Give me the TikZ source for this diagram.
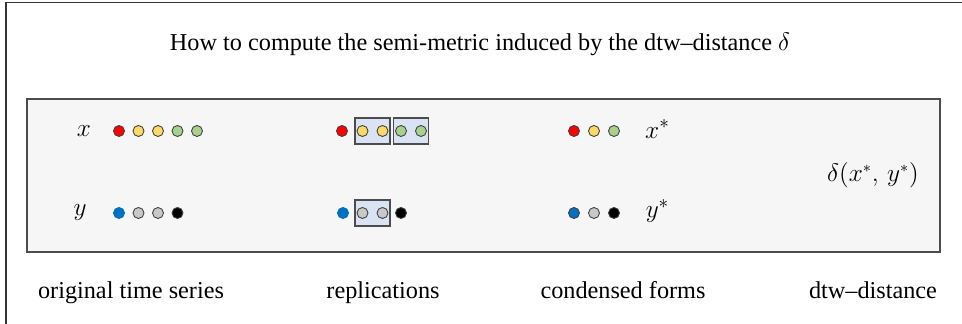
\documentclass[tikz,border=0pt]{standalone}
\usepackage{fontspec}
\setmainfont{Liberation Serif}
\usetikzlibrary{positioning}
\definecolor{rouge}{RGB}{255,0,0}
\definecolor{jaune}{RGB}{255,217,102}
\definecolor{vert}{RGB}{169,209,142}
\definecolor{gris}{RGB}{200,200,200}
\definecolor{bleu}{RGB}{0,112,192}
\definecolor{fondpanneau}{RGB}{246,246,246}
\definecolor{fondboite}{RGB}{218,227,243}

\begin{document}
\begin{tikzpicture}[
        every node/.style={font=\fontsize{13.8}{16}\selectfont},%taille du texte
        bead/.style={circle, draw=black!75, line width=0.5pt, minimum size=0.22cm, inner sep=0pt},%les petits disques
        repbox/.style={draw=black!70, fill=fondboite, line width=0.6pt, minimum width=0.7cm, minimum height=0.52cm, inner sep=0pt},%les boites des replications
        serie/.style={font=\fontsize{15}{18}\selectfont},%noms des series
        legende/.style={anchor=base}]%textes du bas, sur la meme ligne
    \useasboundingbox (0,0) rectangle (19.24,-6.48);
    \draw[line width=0.8pt, black!80] (0.12,-6.48) -- (0.12,-0.05) -- (19.24,-0.05);

    \node (titre) at (9.6,-0.88) {How to compute the semi-metric induced by the dtw--distance $\delta$};

    \node[draw=black!70, fill=fondpanneau, line width=0.8pt, minimum width=18.26cm, minimum height=3.06cm, inner sep=0pt] (panneau) at (9.67,-3.51) {};

    % series originales
    \node[serie] (nx) at (1.68,-2.62) {$x$};
    \node[serie] (ny) at (1.6,-4.26) {$y$};
    \node[bead, fill=rouge] (x1) at (2.38,-2.62) {};
    \node[bead, fill=jaune] (x2) at (2.77,-2.62) {};
    \node[bead, fill=jaune] (x3) at (3.16,-2.62) {};
    \node[bead, fill=vert] (x4) at (3.55,-2.62) {};
    \node[bead, fill=vert] (x5) at (3.94,-2.62) {};
    \node[bead, fill=bleu, draw=bleu] (y1) at (2.38,-4.26) {};
    \node[bead, fill=gris] (y2) at (2.77,-4.26) {};
    \node[bead, fill=gris] (y3) at (3.16,-4.26) {};
    \node[bead, fill=black] (y4) at (3.55,-4.26) {};

    % replications
    \node[repbox] (bx1) at (7.45,-2.62) {};
    \node[repbox] (bx2) at (8.22,-2.62) {};
    \node[repbox] (by1) at (7.45,-4.26) {};
    \node[bead, fill=rouge] (rx1) at (6.84,-2.62) {};
    \node[bead, fill=jaune] (rx2) at (7.25,-2.62) {};
    \node[bead, fill=jaune] (rx3) at (7.65,-2.62) {};
    \node[bead, fill=vert] (rx4) at (8.02,-2.62) {};
    \node[bead, fill=vert] (rx5) at (8.42,-2.62) {};
    \node[bead, fill=bleu, draw=bleu] (ry1) at (6.86,-4.26) {};
    \node[bead, fill=gris] (ry2) at (7.25,-4.26) {};
    \node[bead, fill=gris] (ry3) at (7.65,-4.26) {};
    \node[bead, fill=black] (ry4) at (8.02,-4.26) {};

    % formes condensees
    \node[bead, fill=rouge] (cx1) at (11.48,-2.62) {};
    \node[bead, fill=jaune] (cx2) at (11.88,-2.62) {};
    \node[bead, fill=vert] (cx3) at (12.28,-2.62) {};
    \node[bead, fill=bleu, draw=black!75] (cy1) at (11.48,-4.26) {};
    \node[bead, fill=gris] (cy2) at (11.88,-4.26) {};
    \node[bead, fill=black] (cy3) at (12.28,-4.26) {};
    \node[serie] (nxe) at (13.15,-2.58) {$x^*$};
    \node[serie] (nye) at (13.15,-4.22) {$y^*$};

    % distance
    \node[serie, font=\fontsize{13.5}{16}\selectfont] (dist) at (17.46,-3.5) {$\delta(x^*,\, y^*)$};

    % legendes
    \node[legende] (leg1) at (2.62,-5.97) {original time series};
    \node[legende] (leg2) at (7.66,-5.97) {replications};
    \node[legende] (leg3) at (12.46,-5.97) {condensed forms};
    \node[legende] (leg4) at (17.46,-5.97) {dtw--distance};
\end{tikzpicture}
\end{document}
